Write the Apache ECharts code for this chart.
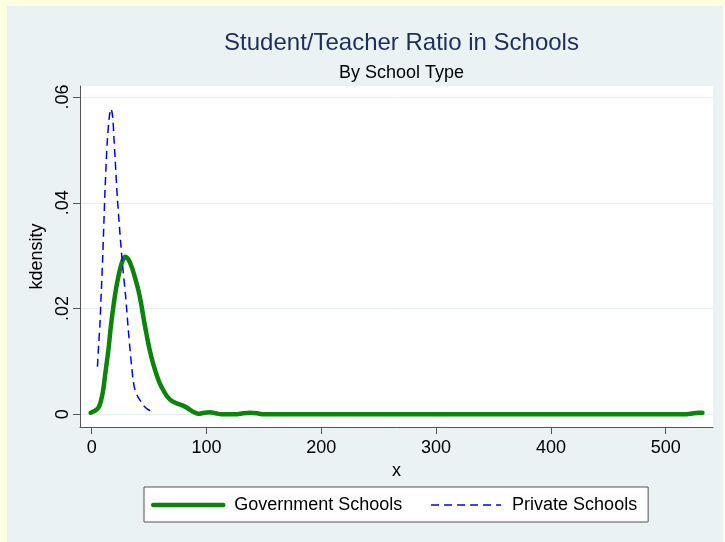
<!DOCTYPE html>
<html>
<head>
<meta charset="utf-8">
<script src="https://cdn.jsdelivr.net/npm/echarts@6/dist/echarts.min.js"></script>
<style>
html,body{margin:0;padding:0;background:#ffffe1;}
#chart{width:725px;height:542px;}
</style>
</head>
<body>
<div id="chart"></div>
<script>
// ---- data ----
const govX = [-1, 3, 6, 8, 10, 12, 14.5, 16.5, 18.8, 21, 23.2, 26, 29, 32, 34.8, 37.5, 40.6, 43, 45, 47, 49.3, 52, 55, 59, 62.5, 66, 70, 75, 80, 84, 88, 93, 98, 103, 108, 113, 125, 132, 138, 144, 150, 200, 300, 400, 500, 515, 522, 528, 532];
const govY = [0.0003, 0.0007, 0.0013, 0.0025, 0.0046, 0.0080, 0.0121, 0.0163, 0.0203, 0.0235, 0.0260, 0.0285, 0.0298, 0.0293, 0.0279, 0.0260, 0.0235, 0.0210, 0.0184, 0.0160, 0.0134, 0.0108, 0.0085, 0.0060, 0.0045, 0.0033, 0.0025, 0.0020, 0.0016, 0.0011, 0.0005, 0.0001, 0.0003, 0.0004, 0.0002, 0.0, 0.0, 0.0002, 0.0003, 0.0002, 0.0, 0.0, 0.0, 0.0, 0.0, 0.0, 0.0001, 0.0003, 0.0003];
const privX = [5, 6, 7.2, 8.4, 9.6, 10.6, 11.6, 12.6, 13.6, 15.3, 16.8, 18.3, 19.3, 20.3, 22.3, 24.6, 27, 29.6, 31.9, 33.5, 34.8, 36.2, 37.7, 40, 42, 44, 46.4, 48.5, 51];
const privY = [0.0090, 0.0130, 0.0172, 0.0235, 0.0298, 0.0362, 0.0424, 0.0475, 0.0518, 0.0562, 0.0578, 0.0562, 0.0525, 0.0487, 0.0411, 0.0342, 0.0279, 0.0222, 0.0159, 0.0120, 0.0090, 0.0063, 0.0046, 0.0034, 0.0027, 0.0020, 0.0014, 0.0010, 0.0007];
const xTicks = [0, 100, 200, 300, 400, 500];
const yTicks = [0, 0.02, 0.04, 0.06];
const seriesNames = ['Government Schools', 'Private Schools'];
const titleText = 'Student/Teacher Ratio in Schools';
const subtitleText = 'By School Type';
const xName = 'x';
const yName = 'kdensity';

const FONT = '"Liberation Sans", Arial, sans-serif';
const GREEN = '#0a850a';
const BLUE = '#0000ff';
const pair = (xs, ys) => xs.map((x, i) => [x, ys[i]]);
const fmtY = v => {
  if (Math.abs(v) < 1e-12) return '0';
  return String(+v.toFixed(4)).replace(/^0\./, '.').replace(/^-0\./, '-.');
};

const chart = echarts.init(document.getElementById('chart'), null, {renderer: 'canvas'});
chart.setOption({
  backgroundColor: '#ffffe1',
  animation: false,
  graphic: {
    elements: [{
      type: 'rect', z: -100, silent: true,
      shape: {x: 7, y: 6, width: 716, height: 536},
      style: {fill: '#eaf2f3'}
    }]
  },
  title: [
    {text: titleText, left: 396.5, textAlign: 'center', top: 26,
     textStyle: {fontFamily: FONT, fontSize: 24, fontWeight: 'normal', color: '#1f2d5c'}},
    {text: subtitleText, left: 396.5, textAlign: 'center', top: 59,
     textStyle: {fontFamily: FONT, fontSize: 18, fontWeight: 'normal', color: '#000'}}
  ],
  grid: {left: 80, top: 86, right: 12, bottom: 115, show: true, backgroundColor: '#ffffff', borderWidth: 0, containLabel: false},
  legend: {
    left: 144, top: 487, padding: [9, 11, 8, 7],
    backgroundColor: '#ffffff', borderColor: '#555', borderWidth: 1, borderRadius: 0,
    itemWidth: 70, itemHeight: 14, itemGap: 28,
    itemStyle: {color: 'transparent', borderWidth: 0, opacity: 0},
    textStyle: {fontFamily: FONT, fontSize: 18, color: '#000', padding: [0, 0, 0, 6]},
    data: [
      {name: seriesNames[0], lineStyle: {width: 4.5, color: GREEN, cap: 'round'}},
      {name: seriesNames[1], lineStyle: {width: 1.5, color: BLUE, type: [8, 5]}}
    ]
  },
  xAxis: {
    type: 'value', min: -10.2, max: 541.2,
    name: xName, nameLocation: 'middle', nameGap: 28,
    nameTextStyle: {fontFamily: FONT, fontSize: 18, color: '#000'},
    axisLine: {show: true, onZero: false, lineStyle: {color: '#555', width: 1}},
    axisTick: {show: true, length: 7, lineStyle: {color: '#555'}, customValues: xTicks},
    axisLabel: {fontFamily: FONT, fontSize: 18, color: '#000', margin: 12, customValues: xTicks},
    splitLine: {show: false}
  },
  yAxis: {
    type: 'value', min: -0.0024, max: 0.0621,
    name: yName, nameLocation: 'middle', nameGap: 31, nameRotate: 90,
    nameTextStyle: {fontFamily: FONT, fontSize: 18, color: '#000'},
    axisLine: {show: true, onZero: false, lineStyle: {color: '#555', width: 1}},
    axisTick: {show: true, length: 7, lineStyle: {color: '#555'}, customValues: yTicks},
    axisLabel: {fontFamily: FONT, fontSize: 18, color: '#000', rotate: 90, margin: 8,
                customValues: yTicks, formatter: fmtY},
    splitLine: {show: true, lineStyle: {color: '#e6eff0', width: 1}}
  },
  series: [
    {name: seriesNames[0], type: 'line', data: pair(govX, govY), symbol: 'none', showSymbol: false,
     smooth: 0.3, z: 3,
     lineStyle: {color: GREEN, width: 4.5, cap: 'round', join: 'round'},
     itemStyle: {color: GREEN}},
    {name: seriesNames[1], type: 'line', data: pair(privX, privY), symbol: 'none', showSymbol: false,
     smooth: 0.3, z: 4,
     lineStyle: {color: BLUE, width: 1.5, type: [8, 5]},
     itemStyle: {color: BLUE}}
  ]
});
</script>
</body>
</html>
